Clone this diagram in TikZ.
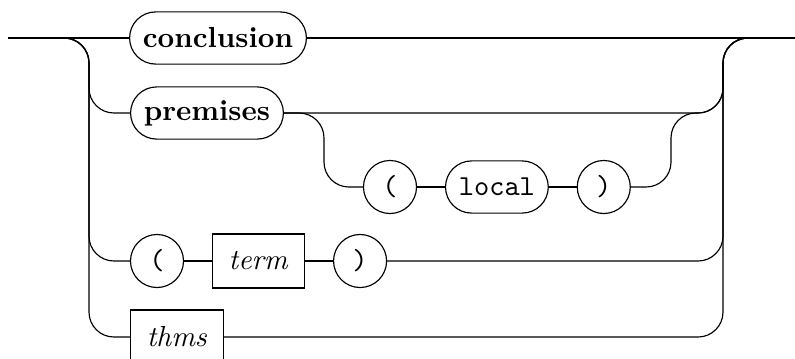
\documentclass[tikz,border=0pt]{standalone}
\usepackage{amsmath}
\usetikzlibrary{positioning}

\begin{document}
\begin{tikzpicture}[x=0.345pt, y=-0.345pt, node distance=9.6pt,
	nonterm/.style={draw, rounded corners=9pt, minimum height=18pt, inner xsep=4.6pt, inner ysep=0pt},
	term/.style={draw, circle, minimum size=18.3pt, inner sep=0pt},
	ruleref/.style={draw, rectangle, minimum height=18.6pt, inner xsep=5.6pt, inner ysep=0pt},
	track/.style={rounded corners=8.6pt}]
	\clip (0,0) rectangle (795,358);

	% main line and split points
	\coordinate (in)  at (8,38);
	\coordinate (out) at (795,38);
	\coordinate (ls)  at (64,38);
	\coordinate (lv)  at (89,38);
	\coordinate (rv)  at (723,38);
	\coordinate (rs)  at (748,38);
	\coordinate (lcv) at (324,113);
	\coordinate (rcv) at (671,113);

	\node [nonterm, anchor=west] (concl) at (129,38)  {\textbf{conclusion}};
	\node [nonterm, anchor=west] (prem)  at (130,113) {\textbf{premises}};
	\node [term]                 (lp_1)  at (390,187) {\texttt{(}};
	\node [nonterm]              (loc)   [right = of lp_1] {\texttt{local}};
	\node [term]                 (rp_1)  [right = of loc]  {\texttt{)}};
	\node [term]                 (lp_2)  at (157,261) {\texttt{(}};
	\node [ruleref]              (trm)   [right = of lp_2] {\textit{term}};
	\node [term]                 (rp_2)  [right = of trm]  {\texttt{)}};
	\node [ruleref, anchor=west] (thms)  at (130,337) {\textit{thms}};

	\draw (in) -- (concl) -- (out);

	% alternatives
	\draw [track] (ls) -| (lv |- prem) -- (prem);
	\draw [track] (ls) -| (lv |- lp_2) -- (lp_2);
	\draw [track] (ls) -| (lv |- thms) -- (thms);
	\draw [track] (prem) -| (rv) -- (rs);
	\draw [track] (rp_2) -| (rv) -- (rs);
	\draw [track] (thms) -| (rv) -- (rs);

	% optional local part
	\draw [track] (prem) -| (lcv |- lp_1) -- (lp_1);
	\draw (lp_1) -- (loc) -- (rp_1);
	\draw [track] (rp_1) -| (rcv) -| (rv) -- (rs);
	\draw (lp_2) -- (trm) -- (rp_2);
\end{tikzpicture}
\end{document}
